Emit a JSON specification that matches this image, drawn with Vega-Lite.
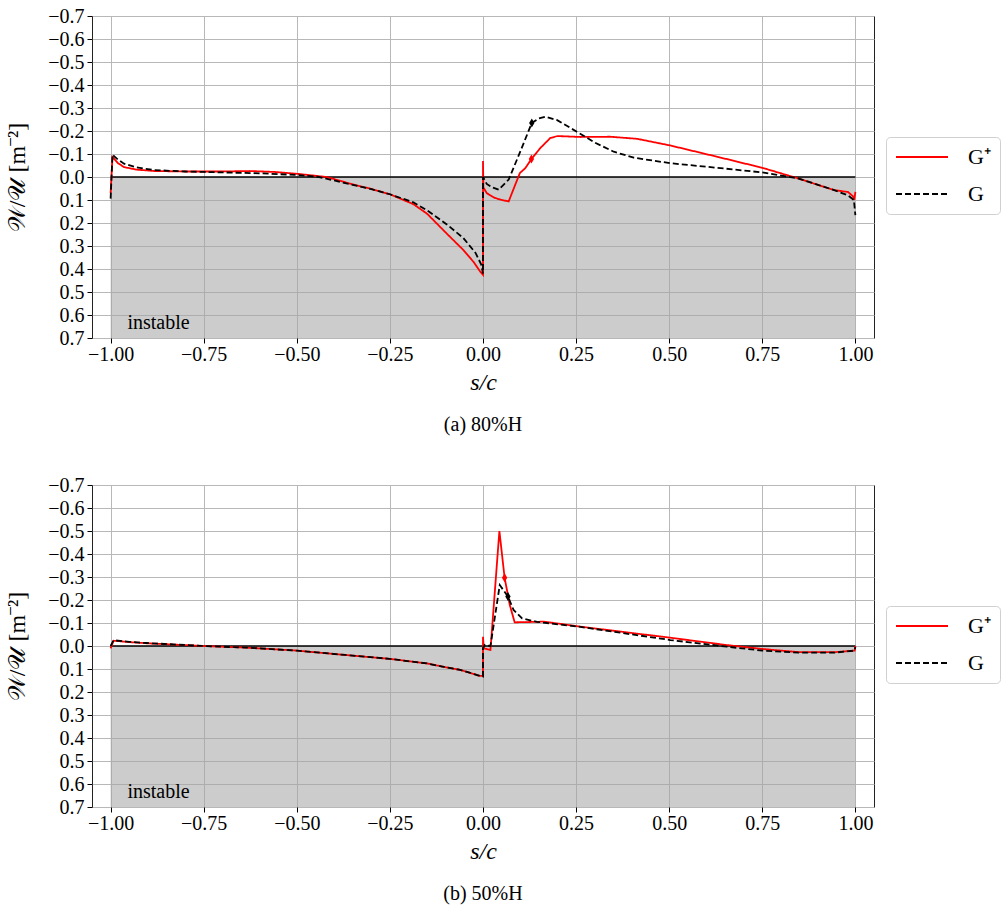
{
  "$schema": "https://vega.github.io/schema/vega-lite/v6.json",
  "padding": {"left": 5, "top": 5, "right": 2, "bottom": 5},
  "background": "white",
  "config": {
    "view": {"stroke": "#222", "strokeWidth": 1},
    "axis": {"labelFont": "Liberation Serif", "labelFontSize": 20, "labelColor": "#000", "labelOverlap": false, "titleFont": "Liberation Serif", "titleFontWeight": "normal", "titleColor": "#000", "gridColor": "#b8b8b8", "gridWidth": 1, "tickColor": "#000", "tickSize": 5, "domain": false, "labelPadding": 3},
    "title": {"font": "Liberation Serif", "fontSize": 20, "fontWeight": "normal", "color": "#000"}
  },
  "datasets": {
    "a": [
      {"series": "G⁺", "i": 0, "s": -1.0, "w": 0.07},
      {"series": "G⁺", "i": 1, "s": -0.995, "w": -0.087},
      {"series": "G⁺", "i": 2, "s": -0.98, "w": -0.06},
      {"series": "G⁺", "i": 3, "s": -0.964, "w": -0.043},
      {"series": "G⁺", "i": 4, "s": -0.93, "w": -0.032},
      {"series": "G⁺", "i": 5, "s": -0.883, "w": -0.026},
      {"series": "G⁺", "i": 6, "s": -0.8, "w": -0.024},
      {"series": "G⁺", "i": 7, "s": -0.7, "w": -0.024},
      {"series": "G⁺", "i": 8, "s": -0.627, "w": -0.026},
      {"series": "G⁺", "i": 9, "s": -0.56, "w": -0.022},
      {"series": "G⁺", "i": 10, "s": -0.5, "w": -0.014},
      {"series": "G⁺", "i": 11, "s": -0.42, "w": 0.0},
      {"series": "G⁺", "i": 12, "s": -0.35, "w": 0.032},
      {"series": "G⁺", "i": 13, "s": -0.3, "w": 0.052},
      {"series": "G⁺", "i": 14, "s": -0.25, "w": 0.075},
      {"series": "G⁺", "i": 15, "s": -0.187, "w": 0.118},
      {"series": "G⁺", "i": 16, "s": -0.15, "w": 0.16},
      {"series": "G⁺", "i": 17, "s": -0.098, "w": 0.245},
      {"series": "G⁺", "i": 18, "s": -0.053, "w": 0.317},
      {"series": "G⁺", "i": 19, "s": -0.025, "w": 0.37},
      {"series": "G⁺", "i": 20, "s": -0.008, "w": 0.41},
      {"series": "G⁺", "i": 21, "s": 0.0, "w": 0.425},
      {"series": "G⁺", "i": 22, "s": 0.0, "w": -0.07},
      {"series": "G⁺", "i": 23, "s": 0.001, "w": 0.045},
      {"series": "G⁺", "i": 24, "s": 0.01, "w": 0.07},
      {"series": "G⁺", "i": 25, "s": 0.03, "w": 0.09},
      {"series": "G⁺", "i": 26, "s": 0.05, "w": 0.1},
      {"series": "G⁺", "i": 27, "s": 0.069, "w": 0.106},
      {"series": "G⁺", "i": 28, "s": 0.085, "w": 0.04},
      {"series": "G⁺", "i": 29, "s": 0.099, "w": -0.017},
      {"series": "G⁺", "i": 30, "s": 0.114, "w": -0.039},
      {"series": "G⁺", "i": 31, "s": 0.13, "w": -0.078},
      {"series": "G⁺", "i": 32, "s": 0.154, "w": -0.126},
      {"series": "G⁺", "i": 33, "s": 0.181, "w": -0.17},
      {"series": "G⁺", "i": 34, "s": 0.2, "w": -0.178},
      {"series": "G⁺", "i": 35, "s": 0.262, "w": -0.174},
      {"series": "G⁺", "i": 36, "s": 0.342, "w": -0.175},
      {"series": "G⁺", "i": 37, "s": 0.414, "w": -0.166},
      {"series": "G⁺", "i": 38, "s": 0.503, "w": -0.137},
      {"series": "G⁺", "i": 39, "s": 0.629, "w": -0.088},
      {"series": "G⁺", "i": 40, "s": 0.75, "w": -0.04},
      {"series": "G⁺", "i": 41, "s": 0.844, "w": 0.005},
      {"series": "G⁺", "i": 42, "s": 0.943, "w": 0.057},
      {"series": "G⁺", "i": 43, "s": 0.98, "w": 0.065},
      {"series": "G⁺", "i": 44, "s": 0.993, "w": 0.083},
      {"series": "G⁺", "i": 45, "s": 0.997, "w": 0.1},
      {"series": "G⁺", "i": 46, "s": 1.0, "w": 0.065},
      {"series": "G", "i": 0, "s": -1.0, "w": 0.094},
      {"series": "G", "i": 1, "s": -0.995, "w": -0.097},
      {"series": "G", "i": 2, "s": -0.98, "w": -0.075},
      {"series": "G", "i": 3, "s": -0.964, "w": -0.058},
      {"series": "G", "i": 4, "s": -0.93, "w": -0.042},
      {"series": "G", "i": 5, "s": -0.883, "w": -0.03},
      {"series": "G", "i": 6, "s": -0.8, "w": -0.024},
      {"series": "G", "i": 7, "s": -0.75, "w": -0.022},
      {"series": "G", "i": 8, "s": -0.6, "w": -0.016},
      {"series": "G", "i": 9, "s": -0.5, "w": -0.009},
      {"series": "G", "i": 10, "s": -0.44, "w": 0.0},
      {"series": "G", "i": 11, "s": -0.35, "w": 0.034},
      {"series": "G", "i": 12, "s": -0.3, "w": 0.053},
      {"series": "G", "i": 13, "s": -0.25, "w": 0.075},
      {"series": "G", "i": 14, "s": -0.187, "w": 0.11},
      {"series": "G", "i": 15, "s": -0.15, "w": 0.145},
      {"series": "G", "i": 16, "s": -0.098, "w": 0.205},
      {"series": "G", "i": 17, "s": -0.053, "w": 0.265},
      {"series": "G", "i": 18, "s": -0.02, "w": 0.33},
      {"series": "G", "i": 19, "s": -0.005, "w": 0.38},
      {"series": "G", "i": 20, "s": 0.0, "w": 0.42},
      {"series": "G", "i": 21, "s": 0.0, "w": 0.0},
      {"series": "G", "i": 22, "s": 0.01, "w": 0.03},
      {"series": "G", "i": 23, "s": 0.025, "w": 0.045},
      {"series": "G", "i": 24, "s": 0.042, "w": 0.055},
      {"series": "G", "i": 25, "s": 0.069, "w": 0.011},
      {"series": "G", "i": 26, "s": 0.1, "w": -0.11},
      {"series": "G", "i": 27, "s": 0.131, "w": -0.235},
      {"series": "G", "i": 28, "s": 0.15, "w": -0.255},
      {"series": "G", "i": 29, "s": 0.167, "w": -0.262},
      {"series": "G", "i": 30, "s": 0.198, "w": -0.248},
      {"series": "G", "i": 31, "s": 0.252, "w": -0.197},
      {"series": "G", "i": 32, "s": 0.3, "w": -0.15},
      {"series": "G", "i": 33, "s": 0.351, "w": -0.11},
      {"series": "G", "i": 34, "s": 0.405, "w": -0.084},
      {"series": "G", "i": 35, "s": 0.503, "w": -0.06},
      {"series": "G", "i": 36, "s": 0.629, "w": -0.04},
      {"series": "G", "i": 37, "s": 0.75, "w": -0.02},
      {"series": "G", "i": 38, "s": 0.844, "w": 0.005},
      {"series": "G", "i": 39, "s": 0.943, "w": 0.057},
      {"series": "G", "i": 40, "s": 0.98, "w": 0.08},
      {"series": "G", "i": 41, "s": 0.996, "w": 0.1},
      {"series": "G", "i": 42, "s": 1.0, "w": 0.166}
    ],
    "b": [
      {"series": "G⁺", "i": 0, "s": -1.0, "w": 0.01},
      {"series": "G⁺", "i": 1, "s": -0.992, "w": -0.023},
      {"series": "G⁺", "i": 2, "s": -0.95, "w": -0.017},
      {"series": "G⁺", "i": 3, "s": -0.904, "w": -0.012},
      {"series": "G⁺", "i": 4, "s": -0.75, "w": 0.0},
      {"series": "G⁺", "i": 5, "s": -0.636, "w": 0.007},
      {"series": "G⁺", "i": 6, "s": -0.5, "w": 0.02},
      {"series": "G⁺", "i": 7, "s": -0.37, "w": 0.039},
      {"series": "G⁺", "i": 8, "s": -0.25, "w": 0.056},
      {"series": "G⁺", "i": 9, "s": -0.15, "w": 0.076},
      {"series": "G⁺", "i": 10, "s": -0.098, "w": 0.093},
      {"series": "G⁺", "i": 11, "s": -0.061, "w": 0.104},
      {"series": "G⁺", "i": 12, "s": -0.008, "w": 0.13},
      {"series": "G⁺", "i": 13, "s": 0.0, "w": 0.13},
      {"series": "G⁺", "i": 14, "s": 0.0, "w": -0.04},
      {"series": "G⁺", "i": 15, "s": 0.002, "w": 0.01},
      {"series": "G⁺", "i": 16, "s": 0.02, "w": 0.017},
      {"series": "G⁺", "i": 17, "s": 0.044, "w": -0.5},
      {"series": "G⁺", "i": 18, "s": 0.058, "w": -0.297},
      {"series": "G⁺", "i": 19, "s": 0.072, "w": -0.178},
      {"series": "G⁺", "i": 20, "s": 0.085, "w": -0.103},
      {"series": "G⁺", "i": 21, "s": 0.145, "w": -0.105},
      {"series": "G⁺", "i": 22, "s": 0.163, "w": -0.106},
      {"series": "G⁺", "i": 23, "s": 0.262, "w": -0.084},
      {"series": "G⁺", "i": 24, "s": 0.503, "w": -0.036},
      {"series": "G⁺", "i": 25, "s": 0.655, "w": -0.004},
      {"series": "G⁺", "i": 26, "s": 0.75, "w": 0.013},
      {"series": "G⁺", "i": 27, "s": 0.85, "w": 0.027},
      {"series": "G⁺", "i": 28, "s": 0.943, "w": 0.027},
      {"series": "G⁺", "i": 29, "s": 0.998, "w": 0.02},
      {"series": "G⁺", "i": 30, "s": 1.0, "w": 0.0},
      {"series": "G", "i": 0, "s": -1.0, "w": 0.0},
      {"series": "G", "i": 1, "s": -0.992, "w": -0.025},
      {"series": "G", "i": 2, "s": -0.95, "w": -0.018},
      {"series": "G", "i": 3, "s": -0.904, "w": -0.013},
      {"series": "G", "i": 4, "s": -0.75, "w": 0.0},
      {"series": "G", "i": 5, "s": -0.636, "w": 0.007},
      {"series": "G", "i": 6, "s": -0.5, "w": 0.02},
      {"series": "G", "i": 7, "s": -0.37, "w": 0.039},
      {"series": "G", "i": 8, "s": -0.25, "w": 0.056},
      {"series": "G", "i": 9, "s": -0.15, "w": 0.076},
      {"series": "G", "i": 10, "s": -0.098, "w": 0.093},
      {"series": "G", "i": 11, "s": -0.061, "w": 0.104},
      {"series": "G", "i": 12, "s": -0.008, "w": 0.13},
      {"series": "G", "i": 13, "s": 0.0, "w": 0.133},
      {"series": "G", "i": 14, "s": 0.0, "w": 0.01},
      {"series": "G", "i": 15, "s": 0.005, "w": -0.005},
      {"series": "G", "i": 16, "s": 0.02, "w": 0.0},
      {"series": "G", "i": 17, "s": 0.045, "w": -0.265},
      {"series": "G", "i": 18, "s": 0.067, "w": -0.215},
      {"series": "G", "i": 19, "s": 0.082, "w": -0.157},
      {"series": "G", "i": 20, "s": 0.105, "w": -0.12},
      {"series": "G", "i": 21, "s": 0.145, "w": -0.105},
      {"series": "G", "i": 22, "s": 0.262, "w": -0.083},
      {"series": "G", "i": 23, "s": 0.503, "w": -0.026},
      {"series": "G", "i": 24, "s": 0.655, "w": 0.003},
      {"series": "G", "i": 25, "s": 0.75, "w": 0.02},
      {"series": "G", "i": 26, "s": 0.85, "w": 0.029},
      {"series": "G", "i": 27, "s": 0.943, "w": 0.029},
      {"series": "G", "i": 28, "s": 0.998, "w": 0.02},
      {"series": "G", "i": 29, "s": 1.0, "w": 0.005}
    ],
    "shade": [{"x1": -1, "x2": 1, "y1": 0, "y2": 0.7}],
    "ma_r": [{"s": 0.13, "w": -0.078}],
    "ma_k": [{"s": 0.131, "w": -0.235}],
    "mb_r": [{"s": 0.058, "w": -0.297}],
    "mb_k": [{"s": 0.067, "w": -0.215}],
    "lbl": [{"s": -0.955, "w": 0.661, "t": "instable"}]
  },
  "resolve": {"scale": {"color": "independent", "strokeDash": "independent"}, "legend": {"color": "independent", "strokeDash": "independent"}},
  "spacing": 38,
  "vconcat": [
    {
      "width": 782, "height": 322,
      "title": {"text": "(a) 80%H", "orient": "bottom", "offset": 21},
      "layer": [
        {"data": {"name": "shade"}, "mark": {"type": "rect", "fill": "#a6a6a6", "fillOpacity": 0.57},
         "encoding": {
           "x": {"field": "x1", "type": "quantitative", "scale": {"domain": [-1.05, 1.05], "nice": false, "zero": false},
                 "axis": {"values": [-1, -0.75, -0.5, -0.25, 0, 0.25, 0.5, 0.75, 1], "tickCount": 20, "format": ".2f", "labelPadding": 1, "title": "s/c", "titleFontSize": 24, "titleFontStyle": "italic", "titlePadding": 6}},
           "x2": {"field": "x2"},
           "y": {"field": "y1", "type": "quantitative", "scale": {"domain": [-0.7, 0.7], "reverse": true, "nice": false, "zero": false},
                 "axis": {"values": [-0.7, -0.6, -0.5, -0.4, -0.3, -0.2, -0.1, 0, 0.1, 0.2, 0.3, 0.4, 0.5, 0.6, 0.7], "tickCount": 20, "format": ".1f", "title": "𝒲/𝒰 [m⁻²]", "titleFontSize": 24, "titlePadding": 18}},
           "y2": {"field": "y2"}
         }},
        {"data": {"name": "shade"}, "mark": {"type": "rule", "color": "#000", "strokeWidth": 1.5},
         "encoding": {"x": {"field": "x1", "type": "quantitative"}, "x2": {"field": "x2"}, "y": {"field": "y1", "type": "quantitative"}}},
        {"data": {"name": "a"}, "mark": {"type": "line", "strokeWidth": 1.8},
         "encoding": {
           "x": {"field": "s", "type": "quantitative"},
           "y": {"field": "w", "type": "quantitative"},
           "order": {"field": "i", "type": "quantitative"},
           "color": {"field": "series", "type": "nominal", "scale": {"domain": ["G⁺", "G"], "range": ["#ff0000", "#000000"]},
                     "legend": {"title": null, "orient": "none", "legendX": 794, "legendY": 121, "padding": 9, "strokeColor": "#d0d0d0", "fillColor": "white", "cornerRadius": 4, "symbolType": "M-2.6,0H2.6", "symbolSize": 400, "symbolStrokeWidth": 1.8, "symbolOffset": 16, "labelFont": "Liberation Serif", "labelFontSize": 22, "labelColor": "#000", "labelOffset": 35, "rowPadding": 15}},
           "strokeDash": {"field": "series", "type": "nominal", "scale": {"domain": ["G⁺", "G"], "range": [[1, 0], [6, 3]]},
                     "legend": {"title": null, "orient": "none", "legendX": 794, "legendY": 121, "padding": 9, "strokeColor": "#d0d0d0", "fillColor": "white", "cornerRadius": 4, "symbolType": "M-2.6,0H2.6", "symbolSize": 400, "symbolStrokeWidth": 1.8, "symbolOffset": 16, "labelFont": "Liberation Serif", "labelFontSize": 22, "labelColor": "#000", "labelOffset": 35, "rowPadding": 15}}
         }},
        {"data": {"name": "ma_r"}, "mark": {"type": "point", "shape": "M0,-1L0.6,0L0,1L-0.6,0Z", "filled": true, "size": 80, "opacity": 1, "color": "#ff0000"},
         "encoding": {"x": {"field": "s", "type": "quantitative"}, "y": {"field": "w", "type": "quantitative"}}},
        {"data": {"name": "ma_k"}, "mark": {"type": "point", "shape": "M0,-1L0.6,0L0,1L-0.6,0Z", "filled": true, "size": 80, "opacity": 1, "color": "#000000"},
         "encoding": {"x": {"field": "s", "type": "quantitative"}, "y": {"field": "w", "type": "quantitative"}}},
        {"data": {"name": "lbl"}, "mark": {"type": "text", "font": "Liberation Serif", "fontSize": 20, "align": "left", "baseline": "alphabetic", "color": "#000"},
         "encoding": {"x": {"field": "s", "type": "quantitative"}, "y": {"field": "w", "type": "quantitative"}, "text": {"field": "t"}}}
      ]
    },
    {
      "width": 782, "height": 322,
      "title": {"text": "(b) 50%H", "orient": "bottom", "offset": 21},
      "layer": [
        {"data": {"name": "shade"}, "mark": {"type": "rect", "fill": "#a6a6a6", "fillOpacity": 0.57},
         "encoding": {
           "x": {"field": "x1", "type": "quantitative", "scale": {"domain": [-1.05, 1.05], "nice": false, "zero": false},
                 "axis": {"values": [-1, -0.75, -0.5, -0.25, 0, 0.25, 0.5, 0.75, 1], "tickCount": 20, "format": ".2f", "labelPadding": 1, "title": "s/c", "titleFontSize": 24, "titleFontStyle": "italic", "titlePadding": 6}},
           "x2": {"field": "x2"},
           "y": {"field": "y1", "type": "quantitative", "scale": {"domain": [-0.7, 0.7], "reverse": true, "nice": false, "zero": false},
                 "axis": {"values": [-0.7, -0.6, -0.5, -0.4, -0.3, -0.2, -0.1, 0, 0.1, 0.2, 0.3, 0.4, 0.5, 0.6, 0.7], "tickCount": 20, "format": ".1f", "title": "𝒲/𝒰 [m⁻²]", "titleFontSize": 24, "titlePadding": 18}},
           "y2": {"field": "y2"}
         }},
        {"data": {"name": "shade"}, "mark": {"type": "rule", "color": "#000", "strokeWidth": 1.5},
         "encoding": {"x": {"field": "x1", "type": "quantitative"}, "x2": {"field": "x2"}, "y": {"field": "y1", "type": "quantitative"}}},
        {"data": {"name": "b"}, "mark": {"type": "line", "strokeWidth": 1.8},
         "encoding": {
           "x": {"field": "s", "type": "quantitative"},
           "y": {"field": "w", "type": "quantitative"},
           "order": {"field": "i", "type": "quantitative"},
           "color": {"field": "series", "type": "nominal", "scale": {"domain": ["G⁺", "G"], "range": ["#ff0000", "#000000"]},
                     "legend": {"title": null, "orient": "none", "legendX": 794, "legendY": 121, "padding": 9, "strokeColor": "#d0d0d0", "fillColor": "white", "cornerRadius": 4, "symbolType": "M-2.6,0H2.6", "symbolSize": 400, "symbolStrokeWidth": 1.8, "symbolOffset": 16, "labelFont": "Liberation Serif", "labelFontSize": 22, "labelColor": "#000", "labelOffset": 35, "rowPadding": 15}},
           "strokeDash": {"field": "series", "type": "nominal", "scale": {"domain": ["G⁺", "G"], "range": [[1, 0], [6, 3]]},
                     "legend": {"title": null, "orient": "none", "legendX": 794, "legendY": 121, "padding": 9, "strokeColor": "#d0d0d0", "fillColor": "white", "cornerRadius": 4, "symbolType": "M-2.6,0H2.6", "symbolSize": 400, "symbolStrokeWidth": 1.8, "symbolOffset": 16, "labelFont": "Liberation Serif", "labelFontSize": 22, "labelColor": "#000", "labelOffset": 35, "rowPadding": 15}}
         }},
        {"data": {"name": "mb_r"}, "mark": {"type": "point", "shape": "M0,-1L0.6,0L0,1L-0.6,0Z", "filled": true, "size": 80, "opacity": 1, "color": "#ff0000"},
         "encoding": {"x": {"field": "s", "type": "quantitative"}, "y": {"field": "w", "type": "quantitative"}}},
        {"data": {"name": "mb_k"}, "mark": {"type": "point", "shape": "M0,-1L0.6,0L0,1L-0.6,0Z", "filled": true, "size": 80, "opacity": 1, "color": "#000000"},
         "encoding": {"x": {"field": "s", "type": "quantitative"}, "y": {"field": "w", "type": "quantitative"}}},
        {"data": {"name": "lbl"}, "mark": {"type": "text", "font": "Liberation Serif", "fontSize": 20, "align": "left", "baseline": "alphabetic", "color": "#000"},
         "encoding": {"x": {"field": "s", "type": "quantitative"}, "y": {"field": "w", "type": "quantitative"}, "text": {"field": "t"}}}
      ]
    }
  ]
}
